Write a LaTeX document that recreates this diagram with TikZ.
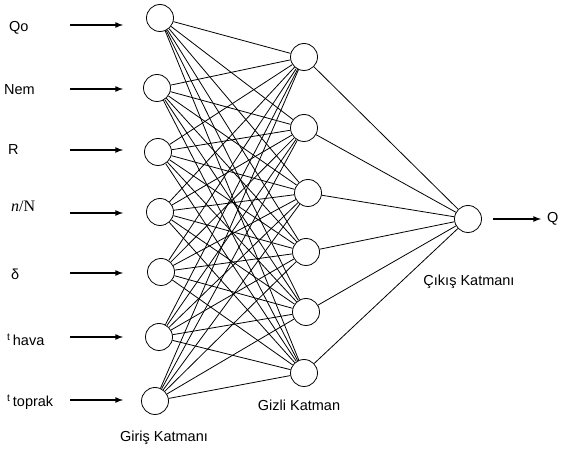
\documentclass[tikz,border=0pt]{standalone}
\usepackage{fontspec}
\setmainfont{Liberation Sans}
\newfontfamily\serifnf{Liberation Serif}
\usetikzlibrary{arrows}

\begin{document}
\begin{tikzpicture}[x=1pt, y=-1pt, font=\fontsize{14.5}{17}\selectfont,
  neuron/.style={draw, circle, minimum size=27pt, inner sep=0pt, line width=0.8pt},
  link/.style={line width=0.8pt},
  feed/.style={->, >=latex, line width=1.6pt},
  lbl/.style={anchor=west, inner sep=0pt}]
\useasboundingbox (0,0) rectangle (563,454);

% layers
\foreach \n/\x/\y in {1/160/18, 2/157/88, 3/158/152, 4/160/212, 5/161/272, 6/159/337, 7/155/401}
  \node[neuron] (in\n) at (\x,\y) {};
\foreach \n/\x/\y in {1/304/57, 2/304/128, 3/308/193, 4/306/252, 5/306/312, 6/304/373}
  \node[neuron] (hid\n) at (\x,\y) {};
\node[neuron] (out) at (468,219) {};

% weights
\foreach \i in {1,...,7}
  \foreach \j in {1,...,6}
    \draw[link] (in\i) -- (hid\j);
\foreach \j in {1,...,6}
  \draw[link] (hid\j) -- (out);

% inputs
\node[lbl] (qo) at (9,28) {Qo};
\node[lbl] (nem) at (4,90) {Nem};
\node[lbl] (r) at (8,150) {R};
\node[lbl] (nn) at (11,206) {\serifnf\fontsize{16}{18}\selectfont\itshape n\upshape/N};
\node[lbl] (delta) at (11,274) {δ};
\node[lbl] (thava) at (7,340) {\textsuperscript{t}\,hava};
\node[lbl] (ttoprak) at (7,402) {\textsuperscript{t}\,toprak};
\foreach \n/\y in {1/25, 2/89, 3/150, 4/213, 5/273, 6/337, 7/400} {
  \coordinate (s\n) at (70,\y);
  \coordinate (e\n) at (123,\y);
  \draw[feed] (s\n) -- (e\n);
}

% output
\coordinate (qs) at (493,219);
\coordinate (qe) at (541,219);
\draw[feed] (qs) -- (qe);
\node[lbl] (q) at (547,219) {Q};

\node (giris) at (164,438) {Giriş Katmanı};
\node (gizli) at (299,405) {Gizli Katman};
\node (cikis) at (469,282) {Çıkış Katmanı};
\end{tikzpicture}
\end{document}
